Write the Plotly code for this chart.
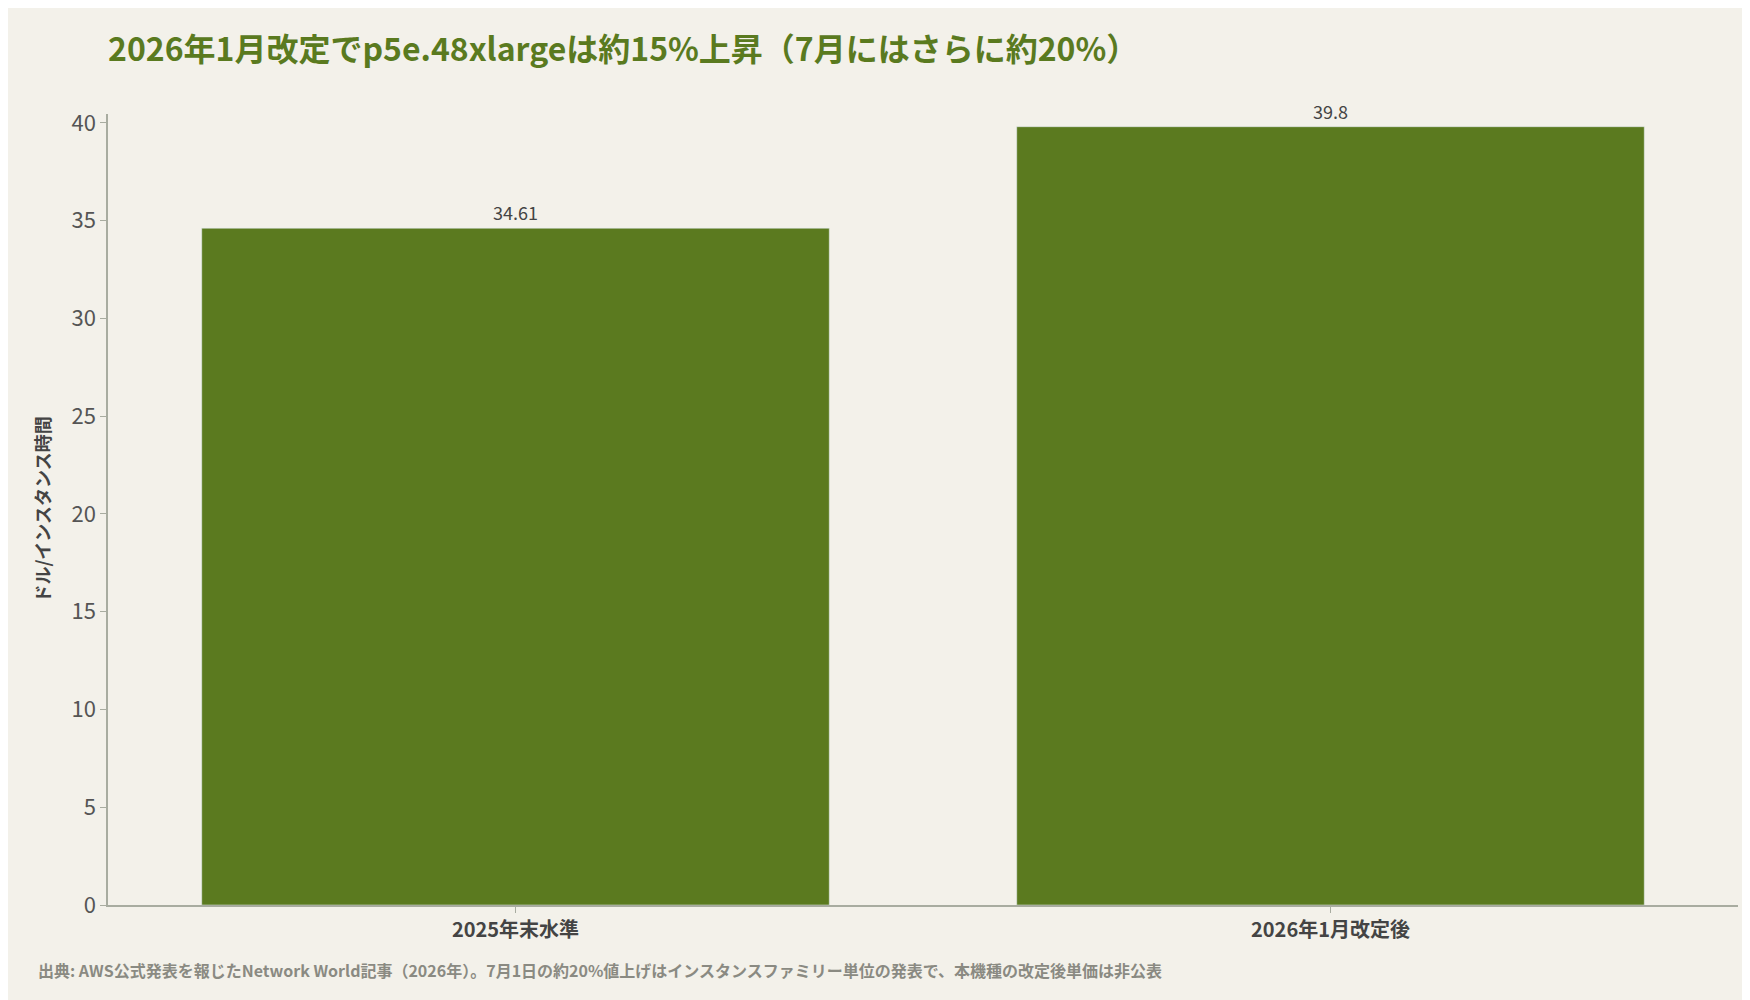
import plotly.graph_objects as go

categories = ["2025年末水準", "2026年1月改定後"]
values = [34.61, 39.8]
labels = ["34.61", "39.8"]

font = "Noto Sans CJK JP"
fig = go.Figure(go.Bar(x=categories, y=values, text=labels, textposition="outside",
                       marker_color="#5b7a1f", textfont=dict(size=18, color="#444"),
                       cliponaxis=False))
fig.update_layout(
    width=1750, height=1000,
    paper_bgcolor="#f3f1ea", plot_bgcolor="#f3f1ea",
    font=dict(family=font, color="#444"),
    margin=dict(l=100, r=20, t=106, b=103),
    bargap=0.23,
    showlegend=False,
    title=dict(text="<b>2026年1月改定でp5e.48xlargeは約15%上昇（7月にはさらに約20%）</b>",
               x=100/1750, xanchor="left", y=1-42/1000, yanchor="middle",
               font=dict(size=32, color="#5a7a1f", family=font)),
    annotations=[dict(text="<b>出典: AWS公式発表を報じたNetwork World記事（2026年）。7月1日の約20%値上げはインスタンスファミリー単位の発表で、本機種の改定後単価は非公表</b>",
                      xref="paper", yref="paper", x=-72/1630, y=-65/791, xanchor="left", yanchor="middle",
                      showarrow=False, font=dict(size=16, color="#8a8a82", family=font))],
)
fig.update_xaxes(showline=True, linecolor="#a8aca0", linewidth=1.5, ticks="outside", ticklen=6,
                 tickcolor="#a8aca0", tickfont=dict(size=20, color="#444"),
                 ticktext=["<b>%s</b>" % c for c in categories], tickvals=categories)
fig.update_yaxes(range=[0, 40.45], dtick=5, showgrid=False, showline=True, linecolor="#a8aca0",
                 linewidth=1.5, ticks="outside", ticklen=6, tickcolor="#a8aca0", zeroline=False,
                 tickfont=dict(size=22, color="#555"),
                 title=dict(text="<b>ドル/インスタンス時間</b>", font=dict(size=18, color="#444"), standoff=16))
fig.write_html("out.html")
